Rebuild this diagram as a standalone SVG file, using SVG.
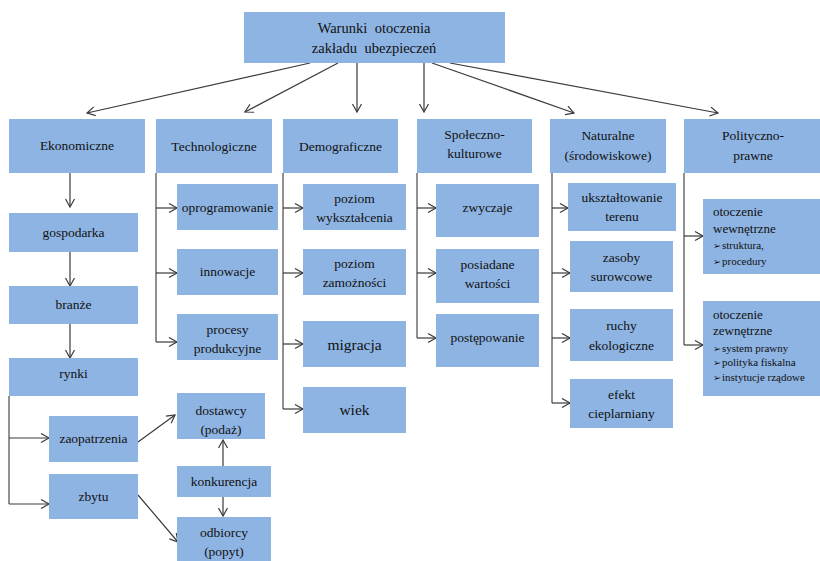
<svg xmlns="http://www.w3.org/2000/svg" width="820" height="561" viewBox="0 0 820 561">
  <style>
    text { font-family: 'Liberation Serif', 'DejaVu Serif', serif; fill: #111; }
    .box { fill: #8EB4E3; }
    .t { font-size: 13.5px; text-anchor: middle; }
    .tb { font-size: 15.5px; text-anchor: middle; }
    .tl { font-size: 13px; }
    .ts { font-size: 11px; }
    .bul { font-family: 'DejaVu Sans', sans-serif; font-size: 9.5px; }
    .title { font-size: 14.5px; text-anchor: middle; word-spacing: 4px; }
    .arr { stroke: #3a3a3a; stroke-width: 1.2; fill: none; marker-end: url(#chev); }
    .br { stroke: #222; stroke-width: 1; fill: none; }
  </style>
  <defs>
    <marker id="chev" markerUnits="userSpaceOnUse" markerWidth="12" markerHeight="12" refX="9" refY="5" orient="auto">
      <path d="M1,0.5 L9,5 L1,9.5" fill="none" stroke="#3a3a3a" stroke-width="1.2"/>
    </marker>
  </defs>

  <rect width="820" height="561" fill="#ffffff"/>

  <!-- connectors -->
  <g id="connectors">
    <!-- from the root -->
    <line class="arr" x1="310" y1="63" x2="87" y2="113"/>
    <line class="arr" x1="338" y1="63" x2="245" y2="112"/>
    <line class="arr" x1="357" y1="63" x2="357" y2="112"/>
    <line class="arr" x1="424" y1="63" x2="424" y2="112"/>
    <line class="arr" x1="432" y1="63" x2="574" y2="113"/>
    <line class="arr" x1="450" y1="63" x2="718" y2="113"/>

    <!-- economic chain -->
    <line class="arr" x1="70" y1="173" x2="70" y2="207"/>
    <line class="arr" x1="70" y1="252" x2="70" y2="286"/>
    <line class="arr" x1="70" y1="324" x2="70" y2="358"/>
    <path class="br" d="M9,396 V504"/>
    <line class="arr" x1="9" y1="438" x2="49" y2="438"/>
    <line class="arr" x1="9" y1="504" x2="49" y2="504"/>
    <line class="arr" x1="138" y1="442" x2="175" y2="415"/>
    <line class="arr" x1="138" y1="495" x2="178" y2="542"/>
    <line class="arr" x1="223" y1="466" x2="223" y2="440"/>
    <line class="arr" x1="223" y1="497" x2="223" y2="516"/>

    <!-- technological -->
    <path class="br" d="M156,173 V342"/>
    <line class="arr" x1="156" y1="208" x2="177" y2="208"/>
    <line class="arr" x1="156" y1="273" x2="177" y2="273"/>
    <line class="arr" x1="156" y1="342" x2="177" y2="342"/>

    <!-- demographic -->
    <path class="br" d="M283,173 V409"/>
    <line class="arr" x1="283" y1="208" x2="303" y2="208"/>
    <line class="arr" x1="283" y1="273" x2="303" y2="273"/>
    <line class="arr" x1="283" y1="344" x2="303" y2="344"/>
    <line class="arr" x1="283" y1="409" x2="303" y2="409"/>

    <!-- socio-cultural -->
    <path class="br" d="M417,173 V338"/>
    <line class="arr" x1="417" y1="208" x2="436" y2="208"/>
    <line class="arr" x1="417" y1="273" x2="436" y2="273"/>
    <line class="arr" x1="417" y1="338" x2="436" y2="338"/>

    <!-- natural -->
    <path class="br" d="M552,173 V403"/>
    <line class="arr" x1="552" y1="208" x2="568" y2="208"/>
    <line class="arr" x1="552" y1="273" x2="570" y2="273"/>
    <line class="arr" x1="552" y1="338" x2="570" y2="338"/>
    <line class="arr" x1="552" y1="403" x2="570" y2="403"/>

    <!-- political-legal -->
    <path class="br" d="M684,173 V345"/>
    <line class="arr" x1="684" y1="236" x2="703" y2="236"/>
    <line class="arr" x1="684" y1="345" x2="703" y2="345"/>
  </g>

  <!-- root -->
  <g id="root">
    <rect class="box" x="244" y="12" width="261" height="51"/>
    <text class="title" x="374" y="33">Warunki otoczenia</text>
    <text class="title" x="374" y="53">zakładu ubezpieczeń</text>
  </g>

  <!-- category headers -->
  <g id="ekonomiczne">
    <rect class="box" x="9" y="119" width="136" height="54"/>
    <text class="t" x="77" y="150">Ekonomiczne</text>
  </g>
  <g id="technologiczne">
    <rect class="box" x="156" y="119" width="116" height="54"/>
    <text class="t" x="214" y="151">Technologiczne</text>
  </g>
  <g id="demograficzne">
    <rect class="box" x="283" y="119" width="115" height="54"/>
    <text class="t" x="340.5" y="151">Demograficzne</text>
  </g>
  <g id="spoleczno">
    <rect class="box" x="417" y="119" width="115" height="54"/>
    <text class="t" x="474.5" y="139">Społeczno-</text>
    <text class="t" x="474.5" y="158">kulturowe</text>
  </g>
  <g id="naturalne">
    <rect class="box" x="550" y="119" width="116" height="54"/>
    <text class="t" x="608" y="140">Naturalne</text>
    <text class="t" x="608" y="160">(środowiskowe)</text>
  </g>
  <g id="polityczno">
    <rect class="box" x="684" y="119" width="136" height="54"/>
    <text class="t" x="753" y="140">Polityczno-</text>
    <text class="t" x="753" y="160">prawne</text>
  </g>

  <!-- economic chain -->
  <g id="gospodarka">
    <rect class="box" x="9" y="213" width="129" height="39"/>
    <text class="t" x="73.5" y="237">gospodarka</text>
  </g>
  <g id="branze">
    <rect class="box" x="9" y="286" width="129" height="38"/>
    <text class="t" x="73.5" y="309">branże</text>
  </g>
  <g id="rynki">
    <rect class="box" x="9" y="358" width="129" height="38"/>
    <text class="t" x="73.5" y="378">rynki</text>
  </g>
  <g id="zaopatrzenia">
    <rect class="box" x="49" y="416" width="89" height="46"/>
    <text class="t" x="93.5" y="443">zaopatrzenia</text>
  </g>
  <g id="zbytu">
    <rect class="box" x="49" y="474" width="89" height="45"/>
    <text class="t" x="93.5" y="501">zbytu</text>
  </g>
  <g id="dostawcy">
    <rect class="box" x="177" y="393" width="88" height="46"/>
    <text class="t" x="221" y="415">dostawcy</text>
    <text class="t" x="221" y="434">(podaż)</text>
  </g>
  <g id="konkurencja">
    <rect class="box" x="177" y="466" width="94" height="31"/>
    <text class="t" x="224" y="486">konkurencja</text>
  </g>
  <g id="odbiorcy">
    <rect class="box" x="177" y="517" width="94" height="48"/>
    <text class="t" x="224" y="537">odbiorcy</text>
    <text class="t" x="224" y="556">(popyt)</text>
  </g>

  <!-- technological -->
  <g id="oprogramowanie">
    <rect class="box" x="177" y="184" width="101" height="46"/>
    <text class="t" x="227.5" y="212">oprogramowanie</text>
  </g>
  <g id="innowacje">
    <rect class="box" x="177" y="249" width="101" height="46"/>
    <text class="t" x="227.5" y="276">innowacje</text>
  </g>
  <g id="procesy">
    <rect class="box" x="177" y="314" width="101" height="46"/>
    <text class="t" x="227.5" y="334">procesy</text>
    <text class="t" x="227.5" y="353">produkcyjne</text>
  </g>

  <!-- demographic -->
  <g id="wyksztalcenie">
    <rect class="box" x="303" y="184" width="103" height="46"/>
    <text class="t" x="354.5" y="203">poziom</text>
    <text class="t" x="354.5" y="222">wykształcenia</text>
  </g>
  <g id="zamoznosc">
    <rect class="box" x="303" y="249" width="103" height="46"/>
    <text class="t" x="354.5" y="268">poziom</text>
    <text class="t" x="354.5" y="287">zamożności</text>
  </g>
  <g id="migracja">
    <rect class="box" x="303" y="321" width="103" height="46"/>
    <text class="tb" x="354.5" y="350">migracja</text>
  </g>
  <g id="wiek">
    <rect class="box" x="303" y="387" width="103" height="46"/>
    <text class="tb" x="354.5" y="415">wiek</text>
  </g>

  <!-- socio-cultural -->
  <g id="zwyczaje">
    <rect class="box" x="436" y="184" width="103" height="53"/>
    <text class="t" x="487.5" y="212">zwyczaje</text>
  </g>
  <g id="wartosci">
    <rect class="box" x="436" y="249" width="103" height="54"/>
    <text class="t" x="487.5" y="269">posiadane</text>
    <text class="t" x="487.5" y="288">wartości</text>
  </g>
  <g id="postepowanie">
    <rect class="box" x="436" y="314" width="103" height="53"/>
    <text class="t" x="487.5" y="342">postępowanie</text>
  </g>

  <!-- natural -->
  <g id="teren">
    <rect class="box" x="568" y="183" width="108" height="48"/>
    <text class="t" x="622" y="202">ukształtowanie</text>
    <text class="t" x="622" y="221">terenu</text>
  </g>
  <g id="zasoby">
    <rect class="box" x="570" y="241" width="103" height="51"/>
    <text class="t" x="621.5" y="262">zasoby</text>
    <text class="t" x="621.5" y="281">surowcowe</text>
  </g>
  <g id="ruchy">
    <rect class="box" x="570" y="309" width="103" height="52"/>
    <text class="t" x="621.5" y="330">ruchy</text>
    <text class="t" x="621.5" y="350">ekologiczne</text>
  </g>
  <g id="efekt">
    <rect class="box" x="570" y="379" width="103" height="49"/>
    <text class="t" x="621.5" y="399">efekt</text>
    <text class="t" x="621.5" y="418">cieplarniany</text>
  </g>

  <!-- political-legal -->
  <g id="wewnetrzne">
    <rect class="box" x="703" y="199" width="117" height="75"/>
    <text class="tl" x="713" y="216">otoczenie</text>
    <text class="tl" x="713" y="233">wewnętrzne</text>
    <text class="bul" x="713" y="249">➢</text>
    <text class="ts" x="722" y="249">struktura,</text>
    <text class="bul" x="713" y="265">➢</text>
    <text class="ts" x="722" y="265">procedury</text>
  </g>
  <g id="zewnetrzne">
    <rect class="box" x="703" y="301" width="117" height="95"/>
    <text class="tl" x="713" y="319">otoczenie</text>
    <text class="tl" x="713" y="335">zewnętrzne</text>
    <text class="bul" x="713" y="352">➢</text>
    <text class="ts" x="722" y="352">system prawny</text>
    <text class="bul" x="713" y="366">➢</text>
    <text class="ts" x="722" y="366">polityka fiskalna</text>
    <text class="bul" x="713" y="381">➢</text>
    <text class="ts" x="722" y="381">instytucje rządowe</text>
  </g>
</svg>
